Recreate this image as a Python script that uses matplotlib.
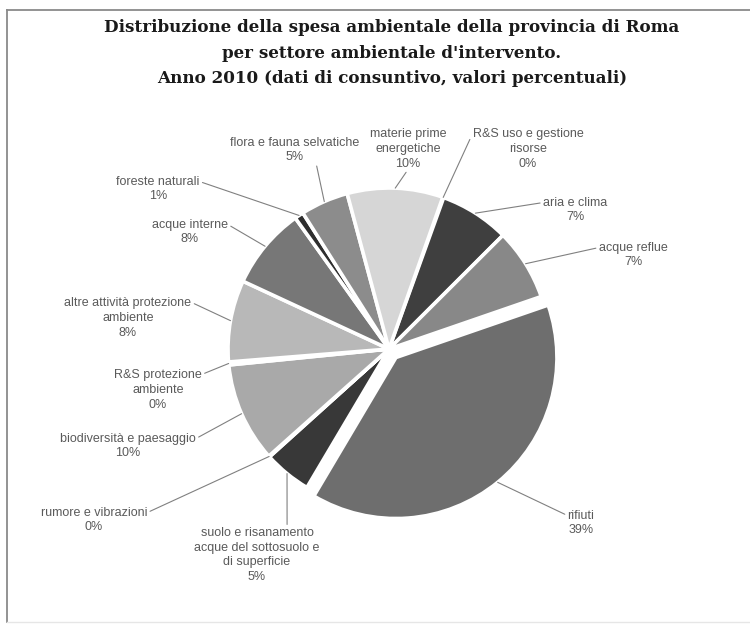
import matplotlib
matplotlib.use("Agg")
import matplotlib.pyplot as plt
from matplotlib.lines import Line2D
import numpy as np

# ---- data (clockwise from the top) ----
categories = [
    "R&S uso e gestione\nrisorse",
    "aria e clima",
    "acque reflue",
    "rifiuti",
    "suolo e risanamento\nacque del sottosuolo e\ndi superficie",
    "rumore e vibrazioni",
    "biodiversità e paesaggio",
    "R&S protezione\nambiente",
    "altre attività protezione\nambiente",
    "acque interne",
    "foreste naturali",
    "flora e fauna selvatiche",
    "materie prime\nenergetiche",
]
values = [0.1, 7.0, 7.2, 38.8, 4.8, 0.1, 10.0, 0.3, 8.2, 8.2, 0.9, 4.8, 9.6]
colors = ["#5a5a5a", "#3f3f3f", "#888888", "#6e6e6e", "#383838", "#9a9a9a",
          "#a9a9a9", "#404040", "#b8b8b8", "#777777", "#2e2e2e", "#8c8c8c",
          "#d6d6d6"]
title = ("Distribuzione della spesa ambientale della provincia di Roma\n"
         "per settore ambientale d'intervento.\n"
         "Anno 2010 (dati di consuntivo, valori percentuali)")

W, H = 750, 626
fig = plt.figure(figsize=(W / 100, H / 100), dpi=100)
ax = fig.add_axes([0, 0, 1, 1])

# frame (left and top strong, bottom faint)
ax.add_line(Line2D([7, 7], [H - 10, H - 622], color="#8a8a8a", lw=1.3))
ax.add_line(Line2D([7, W], [H - 10, H - 10], color="#8a8a8a", lw=1.3))
ax.add_line(Line2D([7, W], [H - 622, H - 622], color="#e6e6e6", lw=1.0))

cx, cy_px, R = 389, 349, 161
cy = H - cy_px
explode = [11 if c == "rifiuti" else 0 for c in categories]
wedges, _ = ax.pie(values, colors=colors, startangle=70.5, counterclock=False,
                   center=(cx, cy), radius=R, explode=explode,
                   wedgeprops=dict(edgecolor="white", linewidth=2.6))
ax.set_xlim(0, W)
ax.set_ylim(0, H)
ax.set_aspect("auto")
ax.axis("off")

# label placement: (x_px, y_px center of text, relpos)
label_pos = {
    "R&S uso e gestione\nrisorse": (528, 149, (0.0, 0.88)),
    "aria e clima": (575, 210, (0.0, 0.78)),
    "acque reflue": (633, 255, (0.0, 0.78)),
    "rifiuti": (581, 523, (0.0, 0.78)),
    "suolo e risanamento\nacque del sottosuolo e\ndi superficie": (257, 555, (0.74, 1.0)),
    "rumore e vibrazioni": (94, 520, (1.0, 0.78)),
    "biodiversità e paesaggio": (128, 446, (1.0, 0.78)),
    "R&S protezione\nambiente": (158, 390, (1.0, 0.88)),
    "altre attività protezione\nambiente": (128, 318, (1.0, 0.88)),
    "acque interne": (190, 232, (1.0, 0.78)),
    "foreste naturali": (158, 189, (1.0, 0.78)),
    "flora e fauna selvatiche": (295, 150, (0.65, 0.3)),
    "materie prime\nenergetiche": (408, 149, (0.5, 0.0)),
}

for w, cat, v in zip(wedges, categories, values):
    th = np.deg2rad(0.5 * (w.theta1 + w.theta2))
    wx, wy = w.center
    px = wx + w.r * np.cos(th)
    py = wy + w.r * np.sin(th)
    lx, ly, rp = label_pos[cat]
    ax.annotate(f"{cat}\n{round(v):d}%", xy=(px, py), xytext=(lx, H - ly),
                ha="center", va="center", fontsize=9.0,
                family=["Liberation Sans", "DejaVu Sans"], color="#5a5a5a",
                linespacing=1.28,
                arrowprops=dict(arrowstyle="-", color="#808080", lw=0.8,
                                shrinkA=0, shrinkB=0, relpos=rp))

ax.text(392, H - 53, title, ha="center", va="center", fontsize=12.1,
        fontweight="bold", family=["DejaVu Serif"],
        color="#1a1a1a", linespacing=1.68)

fig.savefig("out.png", dpi=100)
